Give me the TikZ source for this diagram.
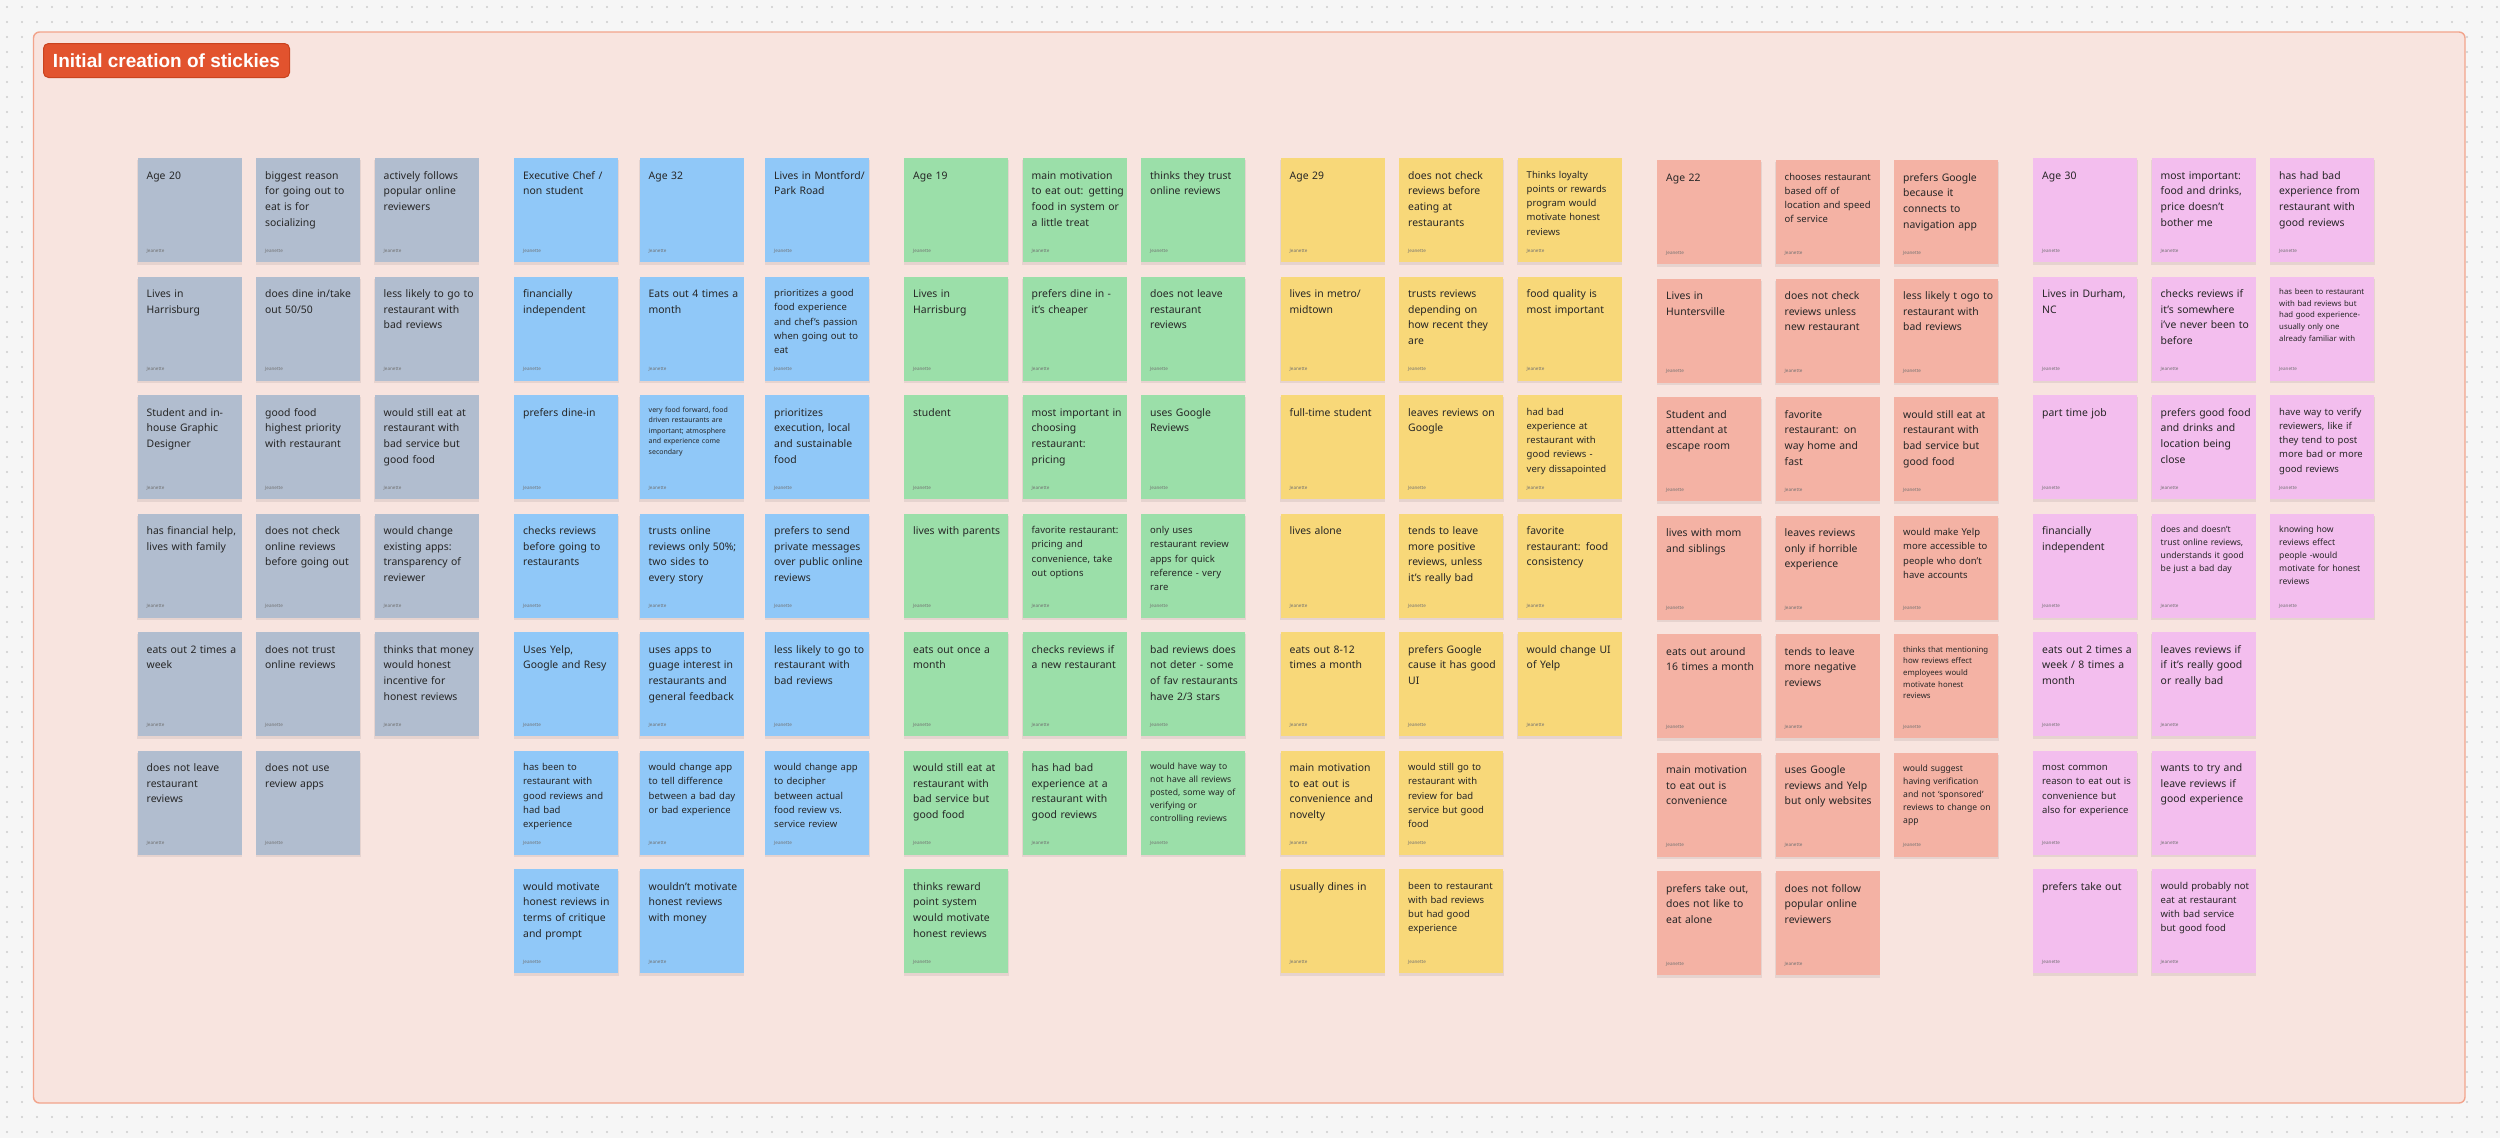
\documentclass[tikz,border=0pt]{standalone}
\usepackage{fontspec}
\setmainfont{Noto Sans}
\newfontfamily\titlefont{Liberation Sans}
\definecolor{bgc}{HTML}{F6F6F6}
\definecolor{dotc}{HTML}{CCCCCC}
\definecolor{framefill}{HTML}{F8E4DF}
\definecolor{framedraw}{HTML}{F2A48C}
\definecolor{titlefill}{HTML}{E2532E}
\definecolor{titledraw}{HTML}{C9431F}
\definecolor{txtc}{HTML}{262626}
\definecolor{authc}{HTML}{707070}
\definecolor{cgray}{HTML}{B1BDCF}
\definecolor{cblue}{HTML}{90C8F8}
\definecolor{cgreen}{HTML}{9BDFA9}
\definecolor{cyellow}{HTML}{F8D879}
\definecolor{cred}{HTML}{F4B2A4}
\definecolor{cpink}{HTML}{F3BEEE}
\tikzset{
  sticky/.style={rectangle, anchor=north west, minimum width=104pt, minimum height=104pt, inner sep=0pt, outer sep=0pt, draw=none},
  stxt/.style={anchor=base west, inner sep=0pt, text width=94pt, align=left, text=txtc, xshift=9pt},
  szL/.style={font=\fontsize{10.4}{15.7}\selectfont, yshift=-21pt},
  szM/.style={font=\fontsize{9.5}{14.3}\selectfont, yshift=-20pt},
  szS/.style={font=\fontsize{8.6}{13}\selectfont, yshift=-19pt},
  szXS/.style={font=\fontsize{7.8}{11.7}\selectfont, yshift=-18pt},
  szXXS/.style={font=\fontsize{7}{10.5}\selectfont, yshift=-17pt},
  auth/.style={anchor=base west, inner sep=0pt, font=\fontsize{4.6}{5}\selectfont, text=authc, xshift=9pt, yshift=-94pt},
  shad/.style={fill=black, fill opacity=0.07},
  dotst/.style={fill=dotc},
}
% #1 name, #2 col, #3 row, #4 size, #5 text
\newcommand\stk[5]{%
  \fill[shad] (\gx+#2*\gp-0.5, \gy+#3*118.5+2) rectangle ++(105,104.5);
  \node[sticky, fill=\gc] (#1) at (\gx+#2*\gp, \gy+#3*118.5) {};
  \node[stxt, sz#4] (#1t) at (#1.north west) {#5};
  \node[auth] (#1a) at (#1.north west) {Jeanette};
}
\begin{document}
\hyphenpenalty=10000
\exhyphenpenalty=10000
\begin{tikzpicture}[x=1pt,y=-1pt]
\useasboundingbox (0,0) rectangle (2500,1138);
\fill[bgc] (0,0) rectangle (2500,1138);
% dot grid in the margins
\foreach \xx in {7,22,...,2497}{
  \foreach \yy in {7,22,1102,1117,1132}{
    \fill[dotst] (\xx,\yy) circle (1.1pt);
  }
}
\foreach \yy in {37,52,...,1100}{
  \foreach \xx in {7,22,2452,2467,2482,2497}{
    \fill[dotst] (\xx,\yy) circle (1.1pt);
  }
}
% frame
\draw[fill=framefill, draw=framedraw, line width=1.4pt, rounded corners=6pt] (33.5,32) rectangle (2465,1103);
\node[anchor=north west, minimum width=246pt, minimum height=34pt, inner sep=0pt, fill=titlefill, draw=titledraw, line width=1pt, rounded corners=5pt, text=white, font=\titlefont\bfseries\fontsize{19}{21}\selectfont] (title) at (43,43) {Initial creation of stickies};

% ---------- gray ----------
\def\gx{137.5}\def\gp{118.5}\def\gy{158}\def\gc{cgray}
\stk{gr00}{0}{0}{L}{Age 20}
\stk{gr01}{1}{0}{L}{biggest reason\\for going out to\\eat is for\\socializing}
\stk{gr02}{2}{0}{L}{actively follows\\popular online\\reviewers}
\stk{gr10}{0}{1}{L}{Lives in\\Harrisburg}
\stk{gr11}{1}{1}{L}{does dine in/take\\out 50/50}
\stk{gr12}{2}{1}{L}{less likely to go to\\restaurant with\\bad reviews}
\stk{gr20}{0}{2}{L}{Student and in-\\house Graphic\\Designer}
\stk{gr21}{1}{2}{L}{good food\\highest priority\\with restaurant}
\stk{gr22}{2}{2}{L}{would still eat at\\restaurant with\\bad service but\\good food}
\stk{gr30}{0}{3}{L}{has financial help,\\lives with family}
\stk{gr31}{1}{3}{L}{does not check\\online reviews\\before going out}
\stk{gr32}{2}{3}{L}{would change\\existing apps:\\transparency of\\reviewer}
\stk{gr40}{0}{4}{L}{eats out 2 times a\\week}
\stk{gr41}{1}{4}{L}{does not trust\\online reviews}
\stk{gr42}{2}{4}{L}{thinks that money\\would honest\\incentive for\\honest reviews}
\stk{gr50}{0}{5}{L}{does not leave\\restaurant\\reviews}
\stk{gr51}{1}{5}{L}{does not use\\review apps}

% ---------- blue ----------
\def\gx{514}\def\gp{125.5}\def\gy{158}\def\gc{cblue}
\stk{bl00}{0}{0}{L}{Executive Chef /\\non student}
\stk{bl01}{1}{0}{L}{Age 32}
\stk{bl02}{2}{0}{L}{Lives in Montford/\\Park Road}
\stk{bl10}{0}{1}{L}{financially\\independent}
\stk{bl11}{1}{1}{L}{Eats out 4 times a\\month}
\stk{bl12}{2}{1}{M}{prioritizes a good\\food experience\\and chef's passion\\when going out to\\eat}
\stk{bl20}{0}{2}{L}{prefers dine-in}
\stk{bl21}{1}{2}{XXS}{very food forward, food\\driven restaurants are\\important; atmosphere\\and experience come\\secondary}
\stk{bl22}{2}{2}{L}{prioritizes\\execution, local\\and sustainable\\food}
\stk{bl30}{0}{3}{L}{checks reviews\\before going to\\restaurants}
\stk{bl31}{1}{3}{L}{trusts online\\reviews only 50\%;\\two sides to\\every story}
\stk{bl32}{2}{3}{L}{prefers to send\\private messages\\over public online\\reviews}
\stk{bl40}{0}{4}{L}{Uses Yelp,\\Google and Resy}
\stk{bl41}{1}{4}{L}{uses apps to\\guage interest in\\restaurants and\\general feedback}
\stk{bl42}{2}{4}{L}{less likely to go to\\restaurant with\\bad reviews}
\stk{bl50}{0}{5}{M}{has been to\\restaurant with\\good reviews and\\had bad\\experience}
\stk{bl51}{1}{5}{M}{would change app\\to tell difference\\between a bad day\\or bad experience}
\stk{bl52}{2}{5}{M}{would change app\\to decipher\\between actual\\food review vs.\\service review}
\stk{bl60}{0}{6}{L}{would motivate\\honest reviews in\\terms of critique\\and prompt}
\stk{bl61}{1}{6}{L}{wouldn't motivate\\honest reviews\\with money}

% ---------- green ----------
\def\gx{904}\def\gp{118.5}\def\gy{158}\def\gc{cgreen}
\stk{gn00}{0}{0}{L}{Age 19}
\stk{gn01}{1}{0}{L}{main motivation\\to eat out: getting\\food in system or\\a little treat}
\stk{gn02}{2}{0}{L}{thinks they trust\\online reviews}
\stk{gn10}{0}{1}{L}{Lives in\\Harrisburg}
\stk{gn11}{1}{1}{L}{prefers dine in -\\it's cheaper}
\stk{gn12}{2}{1}{L}{does not leave\\restaurant\\reviews}
\stk{gn20}{0}{2}{L}{student}
\stk{gn21}{1}{2}{L}{most important in\\choosing\\restaurant:\\pricing}
\stk{gn22}{2}{2}{L}{uses Google\\Reviews}
\stk{gn30}{0}{3}{L}{lives with parents}
\stk{gn31}{1}{3}{M}{favorite restaurant:\\pricing and\\convenience, take\\out options}
\stk{gn32}{2}{3}{M}{only uses\\restaurant review\\apps for quick\\reference - very\\rare}
\stk{gn40}{0}{4}{L}{eats out once a\\month}
\stk{gn41}{1}{4}{L}{checks reviews if\\a new restaurant}
\stk{gn42}{2}{4}{L}{bad reviews does\\not deter - some\\of fav restaurants\\have 2/3 stars}
\stk{gn50}{0}{5}{L}{would still eat at\\restaurant with\\bad service but\\good food}
\stk{gn51}{1}{5}{L}{has had bad\\experience at a\\restaurant with\\good reviews}
\stk{gn52}{2}{5}{S}{would have way to\\not have all reviews\\posted, some way of\\verifying or\\controlling reviews}
\stk{gn60}{0}{6}{L}{thinks reward\\point system\\would motivate\\honest reviews}

% ---------- yellow ----------
\def\gx{1280.5}\def\gp{118.5}\def\gy{158}\def\gc{cyellow}
\stk{ye00}{0}{0}{L}{Age 29}
\stk{ye01}{1}{0}{L}{does not check\\reviews before\\eating at\\restaurants}
\stk{ye02}{2}{0}{M}{Thinks loyalty\\points or rewards\\program would\\motivate honest\\reviews}
\stk{ye10}{0}{1}{L}{lives in metro/\\midtown}
\stk{ye11}{1}{1}{L}{trusts reviews\\depending on\\how recent they\\are}
\stk{ye12}{2}{1}{L}{food quality is\\most important}
\stk{ye20}{0}{2}{L}{full-time student}
\stk{ye21}{1}{2}{L}{leaves reviews on\\Google}
\stk{ye22}{2}{2}{M}{had bad\\experience at\\restaurant with\\good reviews -\\very dissapointed}
\stk{ye30}{0}{3}{L}{lives alone}
\stk{ye31}{1}{3}{L}{tends to leave\\more positive\\reviews, unless\\it's really bad}
\stk{ye32}{2}{3}{L}{favorite\\restaurant: food\\consistency}
\stk{ye40}{0}{4}{L}{eats out 8-12\\times a month}
\stk{ye41}{1}{4}{L}{prefers Google\\cause it has good\\UI}
\stk{ye42}{2}{4}{L}{would change UI\\of Yelp}
\stk{ye50}{0}{5}{L}{main motivation\\to eat out is\\convenience and\\novelty}
\stk{ye51}{1}{5}{M}{would still go to\\restaurant with\\review for bad\\service but good\\food}
\stk{ye60}{0}{6}{L}{usually dines in}
\stk{ye61}{1}{6}{M}{been to restaurant\\with bad reviews\\but had good\\experience}

% ---------- red ----------
\def\gx{1657}\def\gp{118.5}\def\gy{160}\def\gc{cred}
\stk{rd00}{0}{0}{L}{Age 22}
\stk{rd01}{1}{0}{M}{chooses restaurant\\based off of\\location and speed\\of service}
\stk{rd02}{2}{0}{L}{prefers Google\\because it\\connects to\\navigation app}
\stk{rd10}{0}{1}{L}{Lives in\\Huntersville}
\stk{rd11}{1}{1}{L}{does not check\\reviews unless\\new restaurant}
\stk{rd12}{2}{1}{L}{less likely t ogo to\\restaurant with\\bad reviews}
\stk{rd20}{0}{2}{L}{Student and\\attendant at\\escape room}
\stk{rd21}{1}{2}{L}{favorite\\restaurant: on\\way home and\\fast}
\stk{rd22}{2}{2}{L}{would still eat at\\restaurant with\\bad service but\\good food}
\stk{rd30}{0}{3}{L}{lives with mom\\and siblings}
\stk{rd31}{1}{3}{L}{leaves reviews\\only if horrible\\experience}
\stk{rd32}{2}{3}{M}{would make Yelp\\more accessible to\\people who don't\\have accounts}
\stk{rd40}{0}{4}{L}{eats out around\\16 times a month}
\stk{rd41}{1}{4}{L}{tends to leave\\more negative\\reviews}
\stk{rd42}{2}{4}{XS}{thinks that mentioning\\how reviews effect\\employees would\\motivate honest\\reviews}
\stk{rd50}{0}{5}{L}{main motivation\\to eat out is\\convenience}
\stk{rd51}{1}{5}{L}{uses Google\\reviews and Yelp\\but only websites}
\stk{rd52}{2}{5}{S}{would suggest\\having verification\\and not `sponsored'\\reviews to change on\\app}
\stk{rd60}{0}{6}{L}{prefers take out,\\does not like to\\eat alone}
\stk{rd61}{1}{6}{L}{does not follow\\popular online\\reviewers}

% ---------- pink ----------
\def\gx{2033}\def\gp{118.5}\def\gy{158}\def\gc{cpink}
\stk{pk00}{0}{0}{L}{Age 30}
\stk{pk01}{1}{0}{L}{most important:\\food and drinks,\\price doesn't\\bother me}
\stk{pk02}{2}{0}{L}{has had bad\\experience from\\restaurant with\\good reviews}
\stk{pk10}{0}{1}{L}{Lives in Durham,\\NC}
\stk{pk11}{1}{1}{L}{checks reviews if\\it's somewhere\\i've never been to\\before}
\stk{pk12}{2}{1}{XS}{has been to restaurant\\with bad reviews but\\had good experience-\\usually only one\\already familiar with}
\stk{pk20}{0}{2}{L}{part time job}
\stk{pk21}{1}{2}{L}{prefers good food\\and drinks and\\location being\\close}
\stk{pk22}{2}{2}{M}{have way to verify\\reviewers, like if\\they tend to post\\more bad or more\\good reviews}
\stk{pk30}{0}{3}{L}{financially\\independent}
\stk{pk31}{1}{3}{S}{does and doesn't\\trust online reviews,\\understands it good\\be just a bad day}
\stk{pk32}{2}{3}{S}{knowing how\\reviews effect\\people -would\\motivate for honest\\reviews}
\stk{pk40}{0}{4}{L}{eats out 2 times a\\week / 8 times a\\month}
\stk{pk41}{1}{4}{L}{leaves reviews if\\if it's really good\\or really bad}
\stk{pk50}{0}{5}{M}{most common\\reason to eat out is\\convenience but\\also for experience}
\stk{pk51}{1}{5}{L}{wants to try and\\leave reviews if\\good experience}
\stk{pk60}{0}{6}{L}{prefers take out}
\stk{pk61}{1}{6}{M}{would probably not\\eat at restaurant\\with bad service\\but good food}
\end{tikzpicture}
\end{document}
